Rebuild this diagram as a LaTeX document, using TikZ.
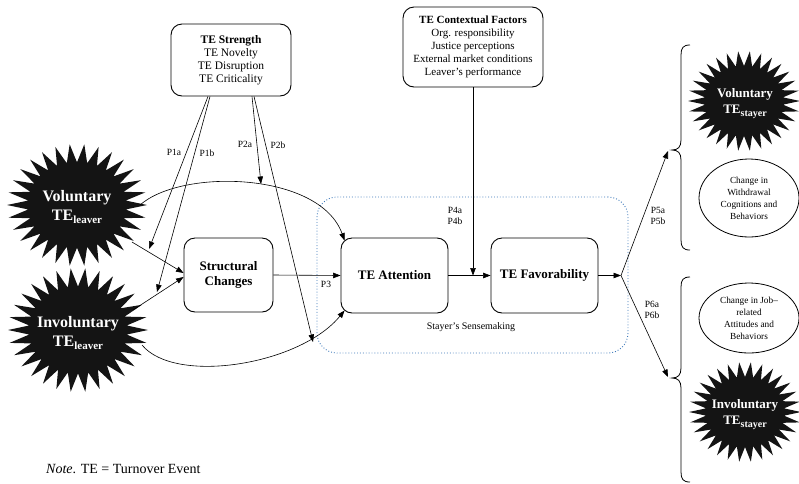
\documentclass[tikz,border=0pt]{standalone}
\usepackage{fontspec}
\setmainfont{Liberation Serif}
\usetikzlibrary{arrows.meta,calc,shapes.geometric}
\definecolor{dotblue}{RGB}{60,120,185}
\definecolor{burstfill}{RGB}{20,20,20}
\newcommand\burstshape[4]{%
  \fill[burstfill] ({#1+#3},#2) \foreach \k in {1,...,59}{ -- ({#1+(1-0.3*mod(\k,2))*#3*cos(\k*6)},{#2+(1-0.3*mod(\k,2))*#4*sin(\k*6)}) } -- cycle;}
\begin{document}
\begin{tikzpicture}[x=1pt,y=-1pt,
  box/.style={draw, rounded corners=11pt, line width=0.9pt, align=center, inner sep=0pt},
  infobox/.style={box, font=\fontsize{11.5}{13}\selectfont},
  keybox/.style={box, font=\fontsize{13}{15.5}\selectfont\bfseries},
  oval/.style={draw, ellipse, line width=0.8pt, inner sep=0pt, align=center, font=\fontsize{9.3}{12}\selectfont},
  bigburst/.style={text=white, align=center, font=\fontsize{16}{19}\selectfont\bfseries},
  smallburst/.style={text=white, align=center, font=\fontsize{13}{16}\selectfont\bfseries},
  plabel/.style={font=\fontsize{9.5}{11.5}\selectfont, align=center, inner sep=0pt},
  arr/.style={line width=0.6pt, -{Triangle[length=7.5pt,width=5.5pt]}},
  link/.style={line width=0.6pt},
  brace/.style={line width=0.8pt}
]
\useasboundingbox (0,0) rectangle (799,483);

% starbursts
\burstshape{77}{205}{70}{61}
\burstshape{78}{330}{70}{62}
\burstshape{744}{101}{56}{50}
\burstshape{745}{412}{56}{50}
\node[bigburst] (vl) at (77,207) {Voluntary\\TE\raisebox{-3pt}{\fontsize{11}{11}\selectfont leaver}};
\node[bigburst] (il) at (78,333) {Involuntary\\TE\raisebox{-3pt}{\fontsize{11}{11}\selectfont leaver}};
\node[smallburst] (vs) at (745,104) {Voluntary\\TE\raisebox{-3pt}{\fontsize{10}{10}\selectfont stayer}};
\node[smallburst] (is) at (745,415) {Involuntary\\TE\raisebox{-3pt}{\fontsize{10}{10}\selectfont stayer}};

% boxes
\node[infobox, minimum width=120, minimum height=72] (str) at (231,60)
  {\textbf{TE Strength}\\TE Novelty\\TE Disruption\\TE Criticality};
\node[infobox, font=\fontsize{11}{13}\selectfont, minimum width=140, minimum height=80] (ctx) at (473,47)
  {\textbf{TE Contextual Factors}\\Org. responsibility\\Justice perceptions\\External market conditions\\Leaver’s performance};
\node[draw=dotblue, dotted, line width=0.9pt, rounded corners=20pt, minimum width=311, minimum height=156] (sense) at (472.5,275) {};
\node[font=\fontsize{10}{12}\selectfont] (senselabel) at (471,327) {Stayer’s Sensemaking};
\node[keybox, minimum width=89, minimum height=74] (sc) at (228.5,275) {Structural\\Changes};
\node[keybox, minimum width=107, minimum height=75] (att) at (394.5,275.5) {TE Attention};
\node[keybox, minimum width=107, minimum height=75] (fav) at (544.5,275.5) {TE Favorability};

% outcome ovals
\node[oval, minimum width=100, minimum height=78] (wd) at (749,198) {Change in\\Withdrawal\\Cognitions and\\Behaviors};
\node[oval, minimum width=100, minimum height=70] (job) at (749,318) {Change in Job–\\related\\Attitudes and\\Behaviors};

% braces
\draw[brace] (690,45) .. controls (683,45) and (681,48) .. (681,55) -- (681,140)
  .. controls (681,147) and (678,150) .. (672,150) .. controls (678,150) and (681,153) .. (681,160)
  -- (681,240) .. controls (681,247) and (683,250) .. (690,250);
\draw[brace] (690,277) .. controls (683,277) and (681,280) .. (681,287) -- (681,368)
  .. controls (681,375) and (678,378) .. (672,378) .. controls (678,378) and (681,381) .. (681,388)
  -- (681,472) .. controls (681,479) and (683,482) .. (690,482);

% coordinates
\coordinate (vlout) at (132,242);
\coordinate (ilout) at (133,310);
\coordinate (vlcurve) at (140,205);
\coordinate (ilcurve) at (142,345);
\coordinate (p1a) at (149,249);
\coordinate (p1b) at (157,292);
\coordinate (p2a) at (261,184);
\coordinate (p2b) at (313,342);
\coordinate (fork) at (621,275.5);
\coordinate (uptip) at (668,151);
\coordinate (downtip) at (668,377);

% connectors into structural changes
\draw[arr] (vlout) -- ($(sc.west)+(0,-2)$);
\draw[arr] (ilout) -- ($(sc.west)+(0,2)$);
% curves into attention
\draw[arr] (vlcurve) .. controls (182,168) and (320,172) .. ($(att.north west)+(4,3)$);
\draw[arr] (ilcurve) .. controls (175,385) and (300,365) .. ($(att.south west)+(4,-3)$);
% moderators from strength
\draw[arr] ($(str.south)+(-23,0)$) -- (p1a);
\draw[arr] ($(str.south)+(-21,0)$) -- (p1b);
\draw[arr] ($(str.south)+(21,0)$) -- (p2a);
\draw[arr] ($(str.south)+(23,0)$) -- (p2b);
% main chain
\draw[arr] (sc.east) -- (att.west);
\draw[arr] (att.east) -- (fav.west);
\draw[arr] (ctx.south) -- (ctx.south |- att.east);
\draw[arr] (fav.east) -- (fork);
\draw[arr] (fork) -- (uptip);
\draw[arr] (fork) -- (downtip);

% labels
\node[plabel] (lp1a) at (174,152) {P1a};
\node[plabel] (lp1b) at (207,153) {P1b};
\node[plabel] (lp2a) at (245,144) {P2a};
\node[plabel] (lp2b) at (278,145) {P2b};
\node[plabel] (lp3) at (326,284) {P3};
\node[plabel] (lp4) at (455,216) {P4a\\P4b};
\node[plabel] (lp5) at (658,216) {P5a\\P5b};
\node[plabel] (lp6) at (652,310) {P6a\\P6b};

\node[anchor=base west, inner sep=0pt, font=\fontsize{14}{16}\selectfont] (note) at (46,473) {\textit{Note}. TE = Turnover Event};
\end{tikzpicture}
\end{document}
